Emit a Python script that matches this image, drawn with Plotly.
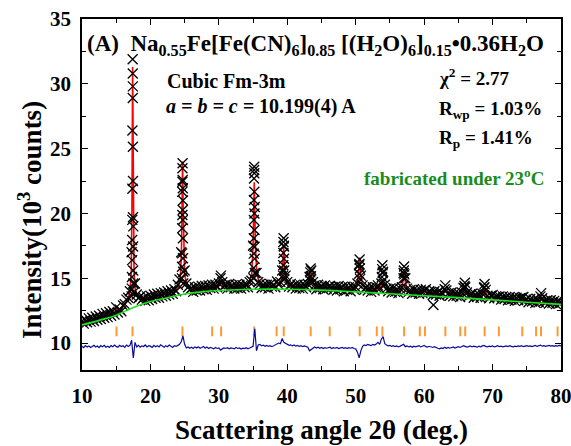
import numpy as np
import plotly.graph_objects as go

# ---------------- data ----------------
# observed scan grid (0.25 deg steps) and its intensities (10^3 counts)
obs_x = np.round(10 + 0.25 * np.arange(281), 2)
obs_y = [
    11.70, 11.50, 11.80, 11.60, 11.90, 11.65, 11.95, 11.70,
    12.05, 11.80, 12.10, 11.85, 12.25, 11.95, 12.30, 12.00,
    12.40, 12.10, 12.45, 12.20, 12.75, 12.35, 12.60, 12.45,
    12.90, 13.00, 13.35, 13.50, 14.00, 17.00, 19.00, 14.60,
    13.75, 13.45, 13.60, 13.35, 13.50, 13.25, 13.60, 13.30,
    13.65, 13.40, 13.75, 13.50, 13.80, 13.50, 13.85, 13.60,
    13.90, 13.65, 14.00, 13.75, 14.05, 13.80, 14.15, 14.00,
    14.50, 14.90, 17.00, 21.00, 15.60, 14.60, 14.30, 14.10,
    14.25, 13.95, 14.30, 14.05, 14.35, 14.05, 14.40, 14.15,
    14.40, 14.10, 14.45, 14.25, 14.50, 14.20, 14.50, 14.30,
    14.60, 15.00, 14.70, 14.40, 14.50, 14.20, 14.55, 14.30,
    14.45, 14.20, 14.50, 14.25, 14.50, 14.20, 14.45, 14.30,
    14.55, 14.30, 14.70, 14.80, 17.50, 20.50, 15.40, 14.70,
    14.55, 14.25, 14.50, 14.30, 14.50, 14.20, 14.55, 14.35,
    14.50, 14.30, 14.75, 14.50, 14.70, 15.60, 17.50, 15.20,
    14.70, 14.35, 14.55, 14.30, 14.45, 14.20, 14.50, 14.25,
    14.45, 14.20, 14.50, 14.30, 14.55, 15.10, 15.60, 14.70,
    14.45, 14.15, 14.50, 14.25, 14.40, 14.15, 14.45, 14.20,
    14.35, 14.40, 14.30, 14.10, 14.35, 14.05, 14.40, 14.15,
    14.30, 14.00, 14.35, 14.10, 14.30, 14.00, 14.35, 14.15,
    14.30, 14.60, 16.00, 15.20, 14.45, 14.10, 14.30, 14.05,
    14.25, 13.95, 14.30, 14.05, 14.30, 14.45, 14.20, 14.60,
    15.50, 14.50, 14.20, 14.00, 14.20, 13.90, 14.25, 13.95,
    14.15, 13.85, 14.20, 14.30, 15.40, 15.00, 14.20, 13.95,
    14.10, 13.80, 14.15, 13.90, 14.05, 13.80, 14.10, 13.85,
    14.05, 14.15, 13.85, 14.00, 13.95, 13.70, 14.00, 13.75,
    13.95, 13.65, 13.90, 13.80, 14.15, 14.05, 13.80, 13.65,
    13.90, 13.60, 13.85, 13.65, 13.85, 13.55, 13.90, 14.25,
    14.30, 13.90, 13.60, 13.75, 13.80, 13.50, 13.75, 13.55,
    13.75, 13.50, 13.80, 14.25, 14.10, 13.65, 13.45, 13.65,
    13.70, 13.45, 13.60, 13.55, 13.60, 13.35, 13.60, 13.40,
    13.55, 13.30, 13.55, 13.35, 13.50, 13.25, 13.50, 13.30,
    13.45, 13.50, 13.55, 13.30, 13.40, 13.15, 13.40, 13.20,
    13.35, 13.10, 13.40, 13.15, 13.60, 13.45, 13.20, 13.10,
    13.30, 13.05, 13.30, 13.10, 13.25, 13.00, 13.25, 13.05,
    13.15,
]

# observed points climbing the Bragg peaks (2theta, intensity)
peak_obs = [
    (17.40, 31.9), (17.42, 30.8), (17.43, 29.8), (17.42, 28.9), (17.37, 26.4),
    (17.44, 25.15), (17.45, 22.5), (17.36, 21.9), (17.45, 19.7), (17.35, 19.5),
    (17.33, 17.95), (17.47, 17.45), (17.32, 16.4), (17.48, 15.6), (17.30, 15.1),
    (17.50, 14.6), (17.28, 14.2), (17.55, 13.9), (17.25, 13.6),
    (24.70, 23.87), (24.68, 23.48), (24.72, 22.58), (24.67, 22.45), (24.73, 21.94),
    (24.66, 21.67), (24.72, 20.26), (24.67, 19.88), (24.74, 19.49), (24.65, 18.85),
    (24.75, 18.08), (24.64, 16.92), (24.76, 16.54), (24.62, 15.89), (24.78, 15.5),
    (24.60, 14.99), (24.80, 14.6),
    (35.17, 23.6), (35.15, 23.35), (35.18, 23.1), (35.14, 22.7), (35.19, 21.67),
    (35.13, 21.03), (35.20, 20.0), (35.12, 19.49), (35.21, 18.72), (35.11, 18.08),
    (35.22, 17.43), (35.10, 16.9), (35.23, 16.5), (35.08, 15.8), (35.25, 15.4),
    (35.05, 15.0),
    (39.47, 18.08), (39.44, 17.8), (39.50, 17.45), (39.43, 16.95), (39.52, 16.5),
    (39.41, 16.0), (39.54, 15.6), (39.39, 15.2), (39.57, 14.9),
    (43.40, 15.75), (43.36, 15.45), (43.45, 15.15), (43.33, 14.85),
    (50.57, 16.45), (50.54, 16.1), (50.61, 15.75), (50.51, 15.35), (50.65, 14.95),
    (53.90, 16.0), (53.86, 15.7), (53.94, 15.4), (53.83, 15.1), (53.97, 14.8),
    (57.07, 15.9), (57.03, 15.6), (57.11, 15.3), (57.00, 15.0),
    (30.30, 15.2), (63.10, 14.45), (65.95, 14.65), (65.90, 14.4),
    (68.83, 14.55), (68.80, 14.3), (77.10, 13.85), (61.35, 12.93),
]

# calculated profile (red)
calc_pts = [
    (10, 11.55), (12, 11.9), (14, 12.2), (14.8, 12.3), (15.05, 12.65), (15.3, 12.4),
    (16.0, 12.8), (16.6, 13.25), (17.0, 13.9), (17.2, 15.5), (17.3, 20.5), (17.4, 31.3),
    (17.5, 20.5), (17.6, 15.5), (17.8, 14.0), (18.2, 13.5), (18.8, 13.3), (20, 13.45),
    (22, 13.75), (23.5, 14.0), (24.1, 14.4), (24.4, 15.3), (24.55, 17.5), (24.62, 20.5),
    (24.7, 24.0), (24.78, 20.5), (24.85, 17.5), (25.0, 15.3), (25.3, 14.5), (26, 14.15),
    (28, 14.2), (28.8, 14.3), (29.0, 14.45), (29.2, 14.3), (30.0, 14.4), (30.3, 14.85),
    (30.6, 14.4), (32, 14.3), (34.3, 14.5), (34.8, 15.3), (35.0, 17.5), (35.08, 19.8),
    (35.17, 22.4), (35.26, 19.8), (35.34, 17.5), (35.55, 15.3), (36.0, 14.5), (37, 14.35),
    (38.2, 14.45), (38.45, 14.65), (38.7, 14.5), (39.1, 14.8), (39.3, 15.6), (39.47, 17.4),
    (39.65, 15.6), (39.85, 14.8), (40.4, 14.4), (42.5, 14.3), (43.1, 14.6), (43.25, 15.1),
    (43.4, 15.7), (43.55, 15.1), (43.7, 14.6), (44.5, 14.3), (46.0, 14.25), (46.2, 14.4),
    (46.4, 14.25), (49.5, 14.2), (50.2, 14.5), (50.4, 15.3), (50.57, 16.6), (50.74, 15.3),
    (50.95, 14.5), (51.8, 14.1), (52.9, 14.05), (53.1, 14.3), (53.35, 14.15), (53.7, 14.4),
    (53.9, 14.9), (54.1, 14.4), (54.6, 14.1), (56.6, 14.0), (56.85, 14.6), (57.07, 15.4),
    (57.3, 14.6), (57.6, 14.0), (59.5, 13.85), (60.1, 13.95), (60.7, 13.85), (62.7, 13.8),
    (63.1, 14.15), (63.5, 13.8), (65.5, 13.7), (65.95, 14.15), (66.4, 13.7), (68.4, 13.6),
    (68.83, 14.15), (69.3, 13.55), (70.6, 13.45), (70.9, 13.55), (71.2, 13.45), (74.0, 13.2),
    (74.35, 13.4), (74.7, 13.2), (76.7, 13.1), (77.1, 13.45), (77.5, 13.1), (80, 13.0),
]

# background (green)
bg_x = [10, 12.5, 15, 17.5, 20, 22.5, 25, 27.5, 30, 35, 40, 45, 50, 55, 60, 65, 70, 75, 80]
bg_y = [11.4, 11.75, 12.15, 12.75, 13.2, 13.5, 13.78, 13.95, 14.05, 14.15, 14.15,
        14.08, 13.95, 13.8, 13.65, 13.5, 13.33, 13.15, 12.98]

# Bragg reflection positions (orange ticks)
bragg_x = [15.04, 17.38, 24.68, 29.02, 30.33, 35.17, 38.44, 39.48, 43.42, 46.2,
           50.58, 53.08, 53.9, 57.07, 59.37, 60.12, 63.1, 65.28, 66.0, 68.84,
           70.92, 74.34, 76.36, 77.08, 79.5]
bragg_level = 10.9

# difference curve (blue), same 0.25 deg grid as obs_x
diff_y = [
    9.75, 9.65, 9.80, 9.70, 9.78, 9.66, 9.74, 9.82,
    9.70, 9.77, 9.64, 9.80, 9.72, 9.83, 9.68, 9.76,
    9.66, 9.80, 9.71, 9.85, 9.74, 9.68, 9.82, 9.73,
    9.79, 9.67, 9.84, 9.75, 9.80, 10.22, 8.85, 10.05,
    9.70, 9.82, 9.68, 9.78, 9.73, 9.85, 9.70, 9.80,
    9.76, 9.66, 9.82, 9.72, 9.80, 9.70, 9.86, 9.74,
    9.68, 9.80, 9.72, 9.84, 9.75, 9.66, 9.80, 9.74,
    9.82, 9.90, 10.10, 10.55, 9.90, 9.62, 9.70, 9.60,
    9.68, 9.58, 9.70, 9.62, 9.72, 9.60, 9.66, 9.74,
    9.60, 9.70, 9.58, 9.66, 9.62, 9.55, 9.65, 9.58,
    9.62, 9.45, 9.55, 9.62, 9.58, 9.64, 9.55, 9.62,
    9.60, 9.55, 9.65, 9.58, 9.62, 9.54, 9.60, 9.57,
    9.64, 9.56, 9.62, 9.70, 9.75, 11.10, 9.40, 9.85,
    9.90, 9.78, 9.84, 9.75, 9.82, 9.74, 9.80, 9.72,
    9.78, 9.85, 9.95, 10.00, 9.95, 10.35, 10.05, 9.95,
    9.90, 9.82, 9.86, 9.78, 9.85, 9.76, 9.82, 9.74,
    9.80, 9.72, 9.78, 9.70, 9.68, 9.40, 9.50, 9.64,
    9.70, 9.62, 9.68, 9.60, 9.66, 9.58, 9.65, 9.60,
    9.62, 9.68, 9.57, 9.64, 9.60, 9.66, 9.58, 9.63,
    9.67, 9.60, 9.65, 9.58, 9.64, 9.60, 9.66, 9.58,
    9.55, 9.30, 8.85, 9.40, 9.75, 9.85, 9.80, 9.90,
    9.86, 9.80, 9.90, 9.84, 9.92, 10.05, 9.90, 10.30,
    10.50, 9.95, 9.85, 9.78, 9.82, 9.74, 9.80, 9.72,
    9.78, 9.70, 9.76, 9.80, 9.90, 9.72, 9.78, 9.70,
    9.75, 9.68, 9.76, 9.70, 9.74, 9.80, 9.70, 9.76,
    9.82, 9.72, 9.68, 9.75, 9.70, 9.66, 9.72, 9.64,
    9.60, 9.55, 9.62, 9.58, 9.68, 9.60, 9.66, 9.60,
    9.65, 9.70, 9.62, 9.68, 9.72, 9.66, 9.75, 9.80,
    9.74, 9.68, 9.72, 9.78, 9.70, 9.76, 9.72, 9.68,
    9.75, 9.70, 9.78, 9.82, 9.74, 9.70, 9.76, 9.72,
    9.78, 9.70, 9.74, 9.80, 9.72, 9.76, 9.70, 9.74,
    9.78, 9.72, 9.80, 9.74, 9.70, 9.76, 9.72, 9.78,
    9.74, 9.80, 9.72, 9.76, 9.80, 9.74, 9.78, 9.72,
    9.76, 9.82, 9.74, 9.80, 9.84, 9.76, 9.80, 9.74,
    9.78, 9.82, 9.76, 9.80, 9.74, 9.80, 9.76, 9.82,
    9.78,
]

# ---------------- figure ----------------
FONT = "Liberation Serif"
fig = go.Figure()

calc_x = [p[0] for p in calc_pts]
calc_y = [p[1] for p in calc_pts]
fig.add_trace(go.Scatter(x=calc_x, y=calc_y, mode="lines",
                         line=dict(color="#FF0000", width=1.6), showlegend=False))

cross = dict(symbol="x-thin", size=10, line=dict(color="black", width=1.3))
fig.add_trace(go.Scatter(x=obs_x, y=obs_y, mode="markers", marker=cross, showlegend=False))
fig.add_trace(go.Scatter(x=[p[0] for p in peak_obs], y=[p[1] for p in peak_obs],
                         mode="markers", marker=cross, showlegend=False))

fig.add_trace(go.Scatter(x=bg_x, y=bg_y, mode="lines", line_shape="spline",
                         line=dict(color="#22E022", width=1.6), showlegend=False))

fig.add_trace(go.Scatter(x=bragg_x, y=[bragg_level] * len(bragg_x), mode="markers",
                         marker=dict(symbol="line-ns", size=7,
                                     line=dict(color="#FF9933", width=2)),
                         showlegend=False))

fig.add_trace(go.Scatter(x=obs_x, y=diff_y, mode="lines",
                         line=dict(color="#0A0A9A", width=1.2), showlegend=False))

axis_common = dict(showline=True, linecolor="black", linewidth=1.5, mirror="ticks",
                   ticks="inside", ticklen=6, tickwidth=1.3, tickcolor="black",
                   showgrid=False, zeroline=False, automargin=False,
                   ticklabeloverflow="allow",
                   tickfont=dict(family=FONT, size=21, color="black", weight="bold"))

fig.update_xaxes(range=[10, 80], tick0=10, dtick=10,
                 minor=dict(ticks="inside", dtick=5, ticklen=4, tickwidth=1.3, tickcolor="black"),
                 ticklabelstandoff=6, **axis_common)
fig.update_yaxes(range=[7.92, 35], tick0=0, dtick=5,
                 minor=dict(ticks="inside", dtick=2.5, ticklen=4, tickwidth=1.3, tickcolor="black"),
                 ticklabelstandoff=5, **axis_common)

ann = []
def add(text, x, y, size, color="black", xanchor="left", yanchor="middle", **kw):
    ann.append(dict(text=text, x=x, y=y, xref="x", yref="y", showarrow=False,
                    xanchor=xanchor, yanchor=yanchor,
                    font=dict(family=FONT, size=size, color=color), **kw))

add("<b>(A)  Na<sub>0.55</sub>Fe[Fe(CN)<sub>6</sub>]<sub>0.85</sub> [(H<sub>2</sub>O)<sub>6</sub>]"
    "<sub>0.15</sub>•0.36H<sub>2</sub>O</b>", 10.5, 33.0, 23)
add("<b>Cubic Fm-3m</b>", 22.1, 30.2, 20)
add("<b><i>a = b = c =</i> 10.199(4) A</b>", 22.0, 28.25, 20)
add("<b>χ<sup>2</sup> = 2.77</b>", 61.9, 30.5, 19)
add("<b>R<sub>wp</sub> = 1.03%</b>", 61.9, 27.95, 19)
add("<b>R<sub>p</sub> = 1.41%</b>", 61.9, 25.75, 19)
add("<b>fabricated under 23<sup>o</sup>C</b>", 50.9, 22.8, 19, color="#1A8C1A")

ann.append(dict(text="<b>Scattering angle 2θ (deg.)</b>", x=0.5, y=-0.171,
                xref="paper", yref="paper", showarrow=False, xanchor="center",
                yanchor="middle", font=dict(family=FONT, size=27, color="black")))
ann.append(dict(text="<b>Intensity(10<sup>3</sup> counts)</b>", x=-0.1086, y=0.427,
                xref="paper", yref="paper", showarrow=False, xanchor="center",
                yanchor="middle", textangle=-90,
                font=dict(family=FONT, size=27, color="black")))

fig.update_layout(width=571, height=446, margin=dict(l=82, r=10, t=19, b=76),
                  plot_bgcolor="white", paper_bgcolor="white", annotations=ann)

fig.write_html("out.html", config={"displayModeBar": False},
               post_script="document.body.style.margin='0';document.body.style.overflow='hidden';")
